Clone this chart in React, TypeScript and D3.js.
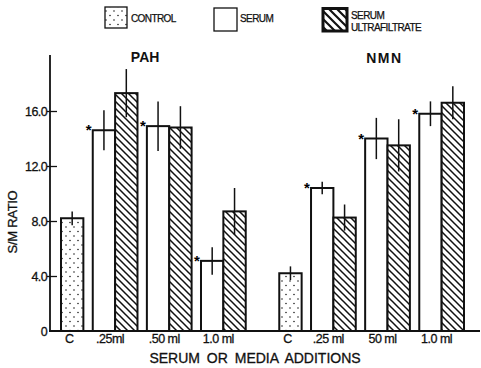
import React, { useEffect, useRef } from "react";
import * as d3 from "d3";

// PAH panel
const pahLabels = ["C", ".25ml", ".50 ml", "1.0 ml"];
const pahControl = 8.2;
const pahControlErr = 0.5;
const pahSerum = [14.6, 14.9, 5.1];
const pahSerumErr = [1.45, 1.8, 1.0];
const pahUltra = [17.3, 14.8, 8.7];
const pahUltraErr = [1.75, 1.55, 1.7];

// NMN panel
const nmnLabels = ["C", ".25 ml", "50 ml", "1.0 ml"];
const nmnControl = 4.2;
const nmnControlErr = 0.5;
const nmnSerum = [10.4, 14.0, 15.8];
const nmnSerumErr = [0.45, 1.5, 0.9];
const nmnUltra = [8.25, 13.5, 16.6];
const nmnUltraErr = [0.95, 1.9, 1.2];

const yTicks = [0, 4, 8, 12, 16];
const yTickLabels = ["0", "4.0", "8.0", "12.0", "16.0"];

const W = 481;
const H = 368;
const FONT = "'Liberation Sans', Arial, sans-serif";

type Bar = { kind: "control" | "serum" | "ultra"; value: number; err: number; start: number };

const App = () => {
  const ref = useRef<SVGSVGElement>(null);

  useEffect(() => {
    const svg = d3.select(ref.current);
    svg.selectAll("*").remove();

    // layout in bar units: each bar 1 wide, gaps between groups and panels
    const groupGap = 0.42;
    const panelGap = 1.5;
    const bars: Bar[] = [];
    const groupCenters: number[] = [];
    let pos = 0;
    const panels = [
      { control: pahControl, cErr: pahControlErr, serum: pahSerum, sErr: pahSerumErr, ultra: pahUltra, uErr: pahUltraErr },
      { control: nmnControl, cErr: nmnControlErr, serum: nmnSerum, sErr: nmnSerumErr, ultra: nmnUltra, uErr: nmnUltraErr },
    ];
    panels.forEach((p, pi) => {
      if (pi > 0) pos += panelGap;
      bars.push({ kind: "control", value: p.control, err: p.cErr, start: pos });
      groupCenters.push(pos + 0.5);
      pos += 1;
      p.serum.forEach((v, i) => {
        pos += groupGap;
        bars.push({ kind: "serum", value: v, err: p.sErr[i], start: pos });
        bars.push({ kind: "ultra", value: p.ultra[i], err: p.uErr[i], start: pos + 1 });
        groupCenters.push(pos + 1);
        pos += 2;
      });
    });

    const x = d3.scaleLinear().domain([0, pos]).range([61, 464]);
    const y = d3.scaleLinear().domain([0, 20]).range([331, 56]);
    const bw = x(1) - x(0);

    const defs = svg.append("defs");
    const dots = defs.append("pattern").attr("id", "dots").attr("patternUnits", "userSpaceOnUse")
      .attr("width", 8).attr("height", 9);
    dots.append("rect").attr("width", 8).attr("height", 9).attr("fill", "#fff");
    dots.append("circle").attr("cx", 2).attr("cy", 2).attr("r", 0.8).attr("fill", "#222");
    dots.append("circle").attr("cx", 6).attr("cy", 6.5).attr("r", 0.8).attr("fill", "#222");

    const hatch = defs.append("pattern").attr("id", "hatch").attr("patternUnits", "userSpaceOnUse")
      .attr("width", 7).attr("height", 7);
    hatch.append("rect").attr("width", 7).attr("height", 7).attr("fill", "#fff");
    hatch.append("path").attr("d", "M-1,-1 L8,8 M-1,6 L1,8 M6,-1 L8,1")
      .attr("stroke", "#111").attr("stroke-width", 1.5);

    const hatchBig = defs.append("pattern").attr("id", "hatchBig").attr("patternUnits", "userSpaceOnUse")
      .attr("width", 8).attr("height", 8);
    hatchBig.append("rect").attr("width", 8).attr("height", 8).attr("fill", "#fff");
    hatchBig.append("path").attr("d", "M-1,-1 L9,9 M-1,7 L1,9 M7,-1 L9,1")
      .attr("stroke", "#111").attr("stroke-width", 2.2);

    const fillFor = (k: Bar["kind"]) => (k === "control" ? "url(#dots)" : k === "ultra" ? "url(#hatch)" : "#fff");

    // bars
    svg.append("g").selectAll("rect").data(bars).enter().append("rect")
      .attr("x", (d) => x(d.start))
      .attr("y", (d) => y(d.value))
      .attr("width", bw)
      .attr("height", (d) => y(0) - y(d.value))
      .attr("fill", (d) => fillFor(d.kind))
      .attr("stroke", "#111")
      .attr("stroke-width", 2);

    // error bars
    svg.append("g").selectAll("line").data(bars).enter().append("line")
      .attr("x1", (d) => x(d.start + 0.5))
      .attr("x2", (d) => x(d.start + 0.5))
      .attr("y1", (d) => y(d.value + d.err))
      .attr("y2", (d) => y(d.value - d.err))
      .attr("stroke", "#111")
      .attr("stroke-width", 1.5);

    // significance marks
    svg.append("g").selectAll("text").data(bars.filter((d) => d.kind === "serum")).enter().append("text")
      .attr("x", (d) => x(d.start) - 4)
      .attr("y", (d) => y(d.value) + 5)
      .attr("text-anchor", "middle")
      .attr("font-family", FONT)
      .attr("font-weight", "bold")
      .attr("font-size", 15)
      .text("*");

    // axes
    svg.append("line").attr("x1", 50).attr("x2", 50).attr("y1", 55).attr("y2", y(0))
      .attr("stroke", "#111").attr("stroke-width", 1.8);
    svg.append("line").attr("x1", 49).attr("x2", 480).attr("y1", y(0)).attr("y2", y(0))
      .attr("stroke", "#111").attr("stroke-width", 1.8);

    const yAxis = d3.axisLeft(y).tickValues(yTicks)
      .tickFormat((_d, i) => yTickLabels[i]).tickSizeInner(-7).tickSizeOuter(0).tickPadding(3);
    const ya = svg.append("g").attr("transform", "translate(50,0)").call(yAxis);
    ya.select(".domain").remove();
    ya.selectAll(".tick line").attr("x1", -3).attr("stroke", "#111").attr("stroke-width", 1.3);
    ya.selectAll(".tick")
      .filter((d) => d === 0)
      .select("line").remove();
    ya.selectAll("text").attr("font-family", FONT).attr("font-size", 12.5)
      .attr("letter-spacing", -0.6).attr("fill", "#111").attr("stroke", "#111").attr("stroke-width", 0.3);

    // group labels
    const labels = [...pahLabels, ...nmnLabels];
    svg.append("g").selectAll("text").data(groupCenters).enter().append("text")
      .attr("x", (d, i) => x(d) - (i % 4 === 0 ? 3 : 5))
      .attr("y", 343)
      .attr("text-anchor", "middle")
      .attr("font-family", FONT)
      .attr("font-size", 12.5)
      .attr("letter-spacing", -0.5)
      .attr("fill", "#111").attr("stroke", "#111").attr("stroke-width", 0.3)
      .text((_d, i) => labels[i]);

    svg.append("text").attr("x", 255).attr("y", 363).attr("text-anchor", "middle")
      .attr("font-family", FONT).attr("font-size", 14).attr("word-spacing", 3)
      .attr("fill", "#111").attr("stroke", "#111").attr("stroke-width", 0.3)
      .text("SERUM OR MEDIA ADDITIONS");

    svg.append("text").attr("transform", "translate(17,222) rotate(-90)").attr("text-anchor", "middle")
      .attr("font-family", FONT).attr("font-size", 13).attr("letter-spacing", -0.3)
      .attr("fill", "#111").attr("stroke", "#111").attr("stroke-width", 0.3)
      .text("S/M RATIO");

    // panel titles
    svg.append("text").attr("x", x(groupCenters[1]) + 30).attr("y", 62).attr("text-anchor", "middle")
      .attr("font-family", FONT).attr("font-weight", "bold").attr("font-size", 14).attr("fill", "#111")
      .text("PAH");
    svg.append("text").attr("x", x(groupCenters[5]) + 51).attr("y", 63).attr("text-anchor", "middle")
      .attr("font-family", FONT).attr("font-weight", "bold").attr("font-size", 14)
      .attr("letter-spacing", 1.5).attr("fill", "#111")
      .text("NMN");

    // legend
    const leg = svg.append("g").attr("font-family", FONT).attr("fill", "#111");
    leg.append("rect").attr("x", 105).attr("y", 7).attr("width", 22).attr("height", 21)
      .attr("fill", "url(#dots)").attr("stroke", "#111").attr("stroke-width", 1.3);
    leg.append("text").attr("x", 131).attr("y", 22).attr("font-size", 10).attr("letter-spacing", -0.6)
      .attr("stroke", "#111").attr("stroke-width", 0.25)
      .text("CONTROL");
    leg.append("rect").attr("x", 214).attr("y", 8).attr("width", 23).attr("height", 23)
      .attr("fill", "#fff").attr("stroke", "#111").attr("stroke-width", 1.3);
    leg.append("text").attr("x", 240).attr("y", 22).attr("font-size", 10).attr("letter-spacing", -0.6)
      .attr("stroke", "#111").attr("stroke-width", 0.25)
      .text("SERUM");
    leg.append("rect").attr("x", 323).attr("y", 8.5).attr("width", 24).attr("height", 22.5)
      .attr("fill", "url(#hatchBig)").attr("stroke", "#111").attr("stroke-width", 3);
    leg.append("text").attr("x", 351).attr("y", 19).attr("font-size", 10).attr("letter-spacing", -0.6)
      .attr("stroke", "#111").attr("stroke-width", 0.25)
      .text("SERUM");
    leg.append("text").attr("x", 351).attr("y", 31).attr("font-size", 10).attr("letter-spacing", -0.6)
      .attr("stroke", "#111").attr("stroke-width", 0.25)
      .text("ULTRAFILTRATE");
  }, []);

  return (
    <svg
      ref={ref}
      width={W}
      height={H}
      viewBox={`0 0 ${W} ${H}`}
      style={{ position: "absolute", left: 0, top: 0, background: "#fff" }}
    ></svg>
  );
};

export default App;
